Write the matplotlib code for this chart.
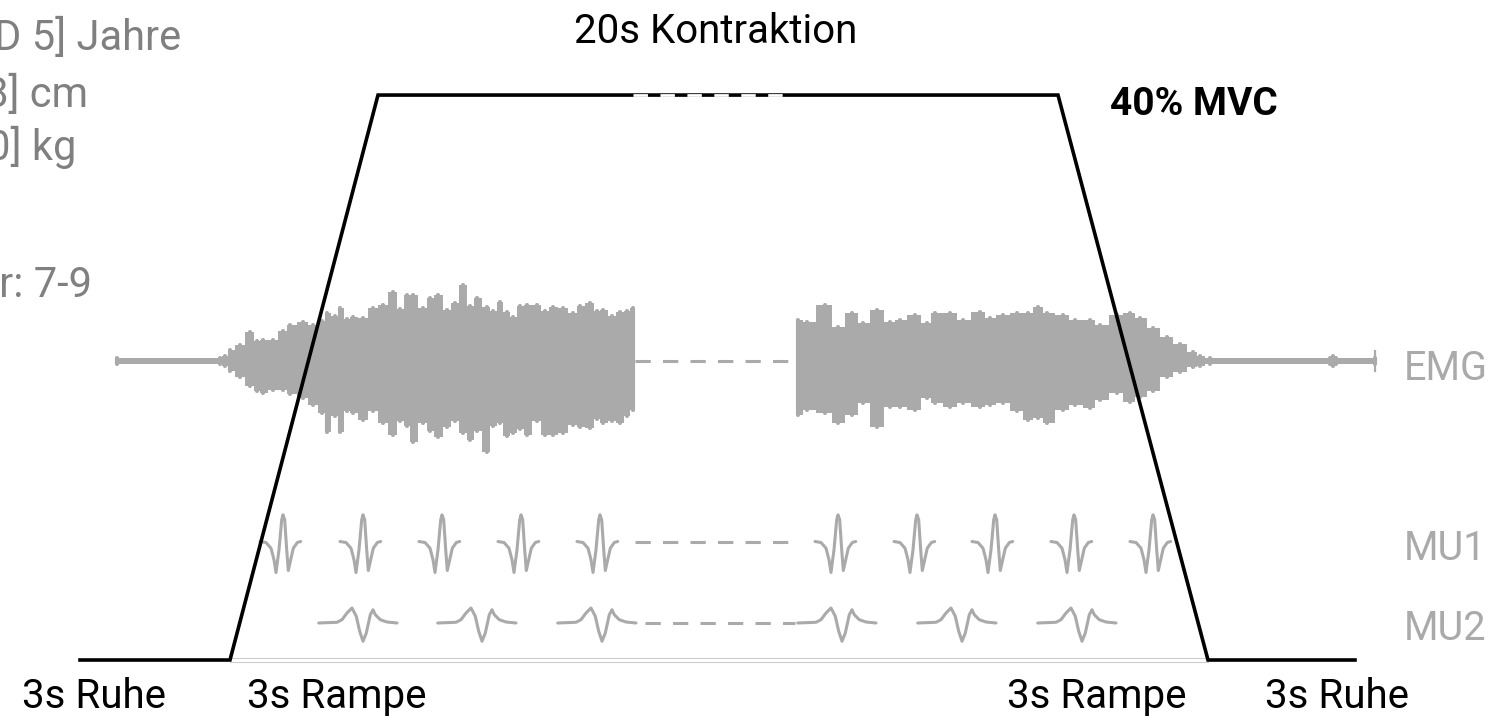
import numpy as np
import matplotlib.pyplot as plt

# force protocol (time in s on the drawn time scale, level in % MVC)
force_t = [0.0, 3.0, 5.96, 19.56, 22.56, 25.5]
force_pct = [0, 0, 40, 40, 0, 0]
plateau_break = [11.06, 14.2]

# EMG envelope (upper / lower deflection, a.u.)
emg_left_t = [0.74, 2.80, 2.90, 3.00, 3.20, 3.40, 3.54, 3.66, 3.86, 4.06, 4.20, 4.46, 4.66,
              4.84, 4.94, 5.10, 5.20, 5.34, 5.46, 5.66, 5.86, 6.06, 6.26, 6.40, 6.54, 6.66,
              6.86, 7.00, 7.16, 7.34, 7.50, 7.66, 7.80, 7.94, 8.14, 8.26, 8.40, 8.54, 8.66,
              8.80, 8.94, 9.14, 9.30, 9.46, 9.66, 9.86, 10.00, 10.20, 10.34, 10.46, 10.64,
              10.80, 10.94, 11.06]
emg_left_up = [3, 3, 5, 11, 16, 29, 20, 21, 21, 30, 36, 39, 36,
               40, 48, 45, 53, 42, 44, 43, 53, 56, 69, 52, 66, 66,
               53, 63, 66, 51, 58, 76, 55, 63, 54, 50, 59, 49, 44,
               55, 56, 56, 50, 54, 53, 48, 55, 58, 50, 51, 45,
               49, 50, 53]
emg_left_down = [3, 3, 5, 10, 16, 25, 30, 32, 29, 29, 33, 37, 44,
                 52, 71, 55, 71, 50, 52, 59, 50, 62, 74, 60, 65, 81,
                 62, 70, 76, 66, 60, 72, 79, 70, 91, 65, 62, 75, 72,
                 68, 74, 60, 74, 74, 72, 64, 66, 67, 58, 62, 60,
                 62, 55, 49]
emg_right_t = [14.36, 14.54, 14.90, 15.16, 15.44, 15.66, 15.94, 16.20, 16.40, 16.70, 16.94,
               17.10, 17.40, 17.66, 18.00, 18.20, 18.46, 18.74, 18.96, 19.16, 19.34, 19.66,
               19.90, 20.20, 20.40, 20.74, 21.00, 21.20, 21.46, 21.74, 22.00, 22.26, 22.40,
               22.60, 25.00, 25.06, 25.12, 25.90]
emg_right_up = [41, 39, 56, 34, 48, 38, 51, 39, 41, 46, 38,
                48, 48, 41, 49, 43, 46, 48, 48, 54, 48, 46,
                41, 41, 36, 46, 48, 43, 33, 24, 17, 9, 5,
                3, 3, 5, 3, 3]
emg_right_down = [54, 49, 52, 62, 54, 42, 66, 46, 46, 49, 37,
                  42, 46, 42, 46, 44, 42, 50, 59, 57, 62, 49,
                  44, 47, 39, 32, 41, 36, 30, 16, 11, 6, 5,
                  3, 3, 5, 3, 3]
emg_gap = [11.1, 14.3]

# motor unit action potential shapes (offset in s, amplitude a.u.)
mu1_shape_t = [-0.46, -0.34, -0.24, -0.18, -0.14, -0.08, -0.026, 0.0, 0.034, 0.074,
               0.106, 0.154, 0.206, 0.286, 0.354]
mu1_shape_a = [0, -1, -6.7, -18.3, -31, -8.3, 21.7, 26.7, 21.7, -8.3, -29, -18.3, -6.7, -1, 0]
mu2_shape_t = [-0.886, -0.52, -0.42, -0.32, -0.22, -0.134, -0.066, 0.0, 0.066, 0.146,
               0.2, 0.246, 0.346, 0.48, 0.68]
mu2_shape_a = [0, 0.7, 3.3, 10, 15, 6.7, -8.3, -18.3, -10, 8.3, 13.3, 8.3, 3.3, 1, 0]

# firing times
mu1_fire = [4.06, 5.66, 7.24, 8.82, 10.40, 15.16, 16.74, 18.30, 19.88, 21.46]
mu2_fire = [5.66, 8.04, 10.44, 15.24, 17.64, 20.04]
mu1_gap = [11.1, 14.2]
mu2_gap = [11.3, 14.3]

info_lines = ['Alter: 24 [SD 5] Jahre', 'Größe: 178 [SD 8] cm',
              'Gewicht: 74 [SD 10] kg', 'Anzahl Teilnehmer: 7-9']
phase_labels = ['3s Ruhe', '3s Rampe', '3s Rampe', '3s Ruhe']

grey = '#aaaaaa'
text_grey = '#808080'
emg_base, mu1_base, mu2_base = 21.17, 8.39, 2.62
gain = 1 / 14.125
plt.rcParams['font.family'] = ['Roboto', 'DejaVu Sans']

fig = plt.figure(figsize=(15.07, 7.18), dpi=100)
ax = fig.add_axes([0, 0, 1, 1])
ax.set_xlim(-1.6, 28.54)
ax.set_ylim(-4.106, 46.73)
ax.axis('off')

# thin grey baseline under the contraction
for off in (0.14, -0.14):
    ax.plot([force_t[1], force_t[4]], [off, off], color='#cccccc', lw=0.8, zorder=1)

# EMG bursts
for t, up, dn in [(emg_left_t, emg_left_up, emg_left_down),
                  (emg_right_t, emg_right_up, emg_right_down)]:
    t = np.array(t)
    up = emg_base + np.array(up) * gain
    dn = emg_base - np.array(dn) * gain
    ax.fill_between(t, dn, up, color=grey, lw=0, step='mid', zorder=2)
    ax.vlines(t, dn, up, color=grey, lw=3, capstyle='round', zorder=2)
ax.plot([emg_right_t[-1]] * 2, [emg_base - 10 * gain, emg_base + 10 * gain], color=grey, lw=1.6)
ax.plot(emg_gap, [emg_base] * 2, color=grey, lw=2.2, dashes=(5, 4), zorder=2)

# motor units
for fire, shape_t, shape_a, base, gap in [(mu1_fire, mu1_shape_t, mu1_shape_a, mu1_base, mu1_gap),
                                          (mu2_fire, mu2_shape_t, mu2_shape_a, mu2_base, mu2_gap)]:
    for f in fire:
        ax.plot(f + np.array(shape_t), base + np.array(shape_a) * gain, color=grey,
                lw=2.2, solid_joinstyle='round', solid_capstyle='round', zorder=2)
    ax.plot(gap, [base] * 2, color=grey, lw=2.2, dashes=(5, 4), zorder=2)

# force trace
ax.plot(force_t, force_pct, color='black', lw=2.6, solid_joinstyle='miter', zorder=3)
ax.plot(plateau_break, [force_pct[2]] * 2, color='white', lw=2.0, dashes=(5.2, 4.5), zorder=4)

# labels
ax.text(12.72, 43.68, '20s Kontraktion', fontsize=29, ha='center', va='baseline')
ax.text(20.6, 38.58, '40% MVC', fontsize=28, fontweight='bold', va='baseline')
for name, lvl in [('EMG', 19.82), ('MU1', 7.08), ('MU2', 1.42)]:
    ax.text(26.48, lvl, name, fontsize=28.5, color=grey, va='baseline')
for name, t in zip(phase_labels, [-1.16, 3.34, 18.54, 23.7]):
    ax.text(t, -3.40, name, fontsize=29, va='baseline')
for line, t, lvl in zip(info_lines, [2.02, 0.16, -0.08, 0.24], [43.19, 39.15, 35.40, 25.70]):
    ax.text(t, lvl, line, fontsize=30, color=text_grey, ha='right', va='baseline')

fig.savefig('out.png', dpi=100)
